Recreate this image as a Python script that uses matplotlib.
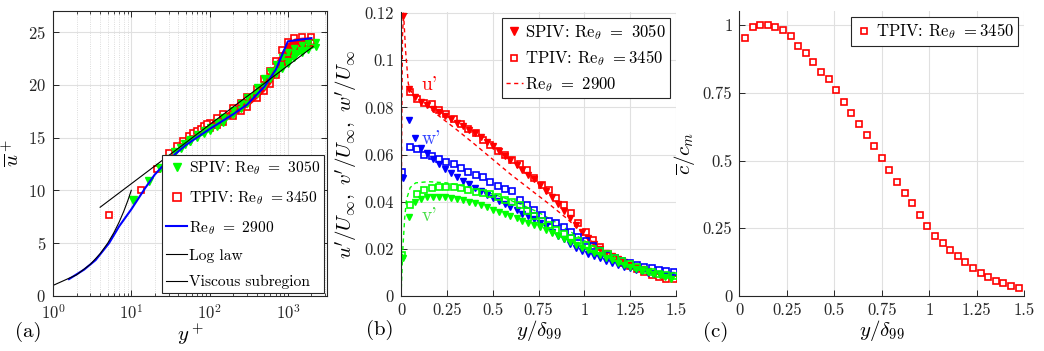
import matplotlib
matplotlib.use("Agg")
import matplotlib.pyplot as plt
import numpy as np
from matplotlib.ticker import FuncFormatter
from matplotlib.lines import Line2D

plt.rcParams['font.family'] = ['cmr10']
plt.rcParams['mathtext.fontset'] = 'cm'
plt.rcParams['axes.formatter.use_mathtext'] = True
plt.rcParams['axes.unicode_minus'] = False

RED = '#ff0000'
GREEN = '#00ff00'
BLUE = '#0000ff'

# ---------------- (a) mean velocity profile ----------------
# DNS Re_theta = 2900
dns_yp = [1.6, 2.5, 3.5, 5.2, 7.0, 10, 15, 20, 30, 50, 100, 200, 300, 500, 700, 1000, 2000]
dns_up = [1.6, 2.5, 3.4, 5.0, 6.6, 8.2, 10.2, 11.5, 12.9, 14.3, 15.8, 17.2, 18.1, 19.8, 21.4, 24.1, 24.4]

# viscous subregion u+ = y+ and log law end points
visc_yp = [1, 2, 3, 4, 5, 6, 7, 8, 9, 10]
visc_up = [1, 2, 3, 4, 5, 6, 7, 8, 9, 10]
log_yp = [4, 2100]
log_up = [8.4, 23.6]

# SPIV, individual points near the wall
spiv_yp = [10.4, 16.9, 23.4, 30, 36, 43, 49, 56]
spiv_up = [9.1, 10.9, 12.1, 13.0, 13.6, 14.0, 14.4, 14.7]
# SPIV, spread of the profiles further out
spiv_band_yp = [56, 70, 85, 100, 125, 150, 200, 250, 300, 400, 500, 600, 700, 850, 1000, 1200, 1500, 1800, 2300]
spiv_band_lo = [14.6, 15.0, 15.3, 15.6, 16.0, 16.4, 17.1, 17.7, 18.2, 19.1, 19.9, 20.5, 21.0, 21.5, 22.0, 22.5, 23.0, 23.3, 23.6]
spiv_band_hi = [14.9, 15.3, 15.7, 16.0, 16.5, 16.9, 17.6, 18.3, 18.8, 19.8, 20.6, 21.3, 22.0, 22.6, 23.1, 23.5, 23.8, 23.9, 24.0]

# TPIV, individual points near the wall
tpiv_yp = [5.2, 13.3, 21.6, 30, 38, 46, 54, 62, 70, 78, 86, 94]
tpiv_up = [7.7, 10.0, 12.0, 13.5, 14.2, 14.7, 15.1, 15.4, 15.65, 15.85, 16.05, 16.25]
tpiv_band_yp = [100, 125, 150, 200, 250, 300, 400, 500, 600, 700, 850, 1000, 1200, 1500, 2000]
tpiv_band_lo = [15.9, 16.2, 16.5, 17.0, 17.5, 17.9, 18.7, 19.4, 20.1, 20.9, 22.0, 22.9, 23.7, 23.9, 23.9]
tpiv_band_hi = [16.4, 16.8, 17.2, 17.8, 18.3, 18.8, 19.6, 20.5, 21.3, 22.2, 23.3, 24.0, 24.4, 24.5, 24.5]

# ---------------- (b) fluctuation profiles ----------------
spiv_y = [0.012, 0.0445, 0.077, 0.1095, 0.142, 0.1745, 0.207, 0.24, 0.272, 0.305,
          0.337, 0.37, 0.402, 0.435, 0.467, 0.5, 0.532, 0.565, 0.597, 0.63,
          0.662, 0.695, 0.727, 0.76, 0.792, 0.825, 0.857, 0.89, 0.922, 0.955,
          0.987, 1.02, 1.052, 1.085, 1.117, 1.15, 1.182, 1.215, 1.247, 1.28,
          1.312, 1.345, 1.377, 1.41, 1.442, 1.475]
spiv_u = [0.119, 0.088, 0.0845, 0.0825, 0.081, 0.0795, 0.078, 0.0765, 0.075, 0.0735,
          0.072, 0.0705, 0.069, 0.0675, 0.0655, 0.0635, 0.0615, 0.0595, 0.0575, 0.0555,
          0.0535, 0.0515, 0.0495, 0.047, 0.0445, 0.042, 0.039, 0.036, 0.033, 0.030,
          0.027, 0.0245, 0.022, 0.020, 0.0183, 0.0168, 0.0155, 0.0143, 0.0133, 0.0123,
          0.0114, 0.0106, 0.0098, 0.0091, 0.0084, 0.0078]
spiv_v = [0.016, 0.0336, 0.040, 0.0412, 0.0418, 0.042, 0.042, 0.0419, 0.0416, 0.0412,
          0.0407, 0.040, 0.0393, 0.0385, 0.0376, 0.0367, 0.0357, 0.0348, 0.0339, 0.033,
          0.032, 0.031, 0.030, 0.0292, 0.0282, 0.0268, 0.0254, 0.0242, 0.0228, 0.0216,
          0.0205, 0.0195, 0.0184, 0.0174, 0.0163, 0.0152, 0.014, 0.013, 0.0122, 0.0115,
          0.0108, 0.0101, 0.0094, 0.0087, 0.008, 0.0073]
spiv_w = [0.050, 0.0748, 0.067, 0.063, 0.0605, 0.058, 0.056, 0.054, 0.052, 0.0505,
          0.049, 0.0475, 0.046, 0.0445, 0.043, 0.0415, 0.0405, 0.039, 0.0378, 0.0365,
          0.035, 0.0338, 0.0325, 0.031, 0.0295, 0.027, 0.0255, 0.024, 0.022, 0.0205,
          0.0193, 0.018, 0.017, 0.016, 0.015, 0.014, 0.0132, 0.0125, 0.0118, 0.011,
          0.0105, 0.0099, 0.0095, 0.0092, 0.009, 0.0088]

tpiv_y = [0.007, 0.047, 0.087, 0.127, 0.167, 0.207, 0.247, 0.287, 0.327, 0.367,
          0.407, 0.447, 0.487, 0.527, 0.567, 0.607, 0.647, 0.687, 0.727, 0.767,
          0.807, 0.847, 0.887, 0.927, 0.967, 1.007, 1.047, 1.087, 1.127, 1.167,
          1.207, 1.247, 1.287, 1.327, 1.367, 1.407, 1.447, 1.487]
tpiv_u = [np.nan, 0.0865, 0.0835, 0.082, 0.0815, 0.079, 0.0772, 0.075, 0.0728, 0.0708,
          0.069, 0.066, 0.064, 0.0617, 0.0597, 0.0578, 0.0558, 0.0535, 0.050, 0.047,
          0.0448, 0.0415, 0.0385, 0.0352, 0.031, 0.0272, 0.0238, 0.021, 0.018, 0.016,
          0.0142, 0.0127, 0.0113, 0.010, 0.0088, 0.0079, 0.0073, 0.0072]
tpiv_v = [0.0175, 0.0385, 0.0432, 0.0448, 0.046, 0.0462, 0.0462, 0.0462, 0.046, 0.0448,
          0.0443, 0.0436, 0.0431, 0.042, 0.0408, 0.0398, 0.0385, 0.0362, 0.034, 0.0318,
          0.030, 0.0282, 0.0265, 0.0248, 0.0232, 0.0215, 0.020, 0.0192, 0.0178, 0.0163,
          0.0148, 0.0135, 0.0122, 0.0112, 0.0103, 0.0095, 0.0088, 0.0083]
tpiv_w = [0.0525, 0.0632, 0.0623, 0.060, 0.0592, 0.058, 0.0569, 0.0562, 0.0545, 0.0527,
          0.0515, 0.0503, 0.0484, 0.0466, 0.0456, 0.0446, 0.0407, 0.0385, 0.0367, 0.0345,
          0.032, 0.031, 0.0292, 0.027, 0.0252, 0.0234, 0.0212, 0.019, 0.0175, 0.0162,
          0.015, 0.0142, 0.0132, 0.0124, 0.0117, 0.011, 0.0106, 0.0103]

# DNS Re_theta = 2900
dns_y_u = [0.0, 0.003, 0.008, 0.014, 0.025, 0.04, 0.06, 0.1, 0.15, 0.2, 0.3, 0.4, 0.5,
           0.6, 0.7, 0.8, 0.9, 1.0, 1.1, 1.2, 1.3, 1.4, 1.5]
dns_u = [0.0, 0.06, 0.11, 0.12, 0.104, 0.09, 0.086, 0.083, 0.080, 0.0768, 0.0708, 0.0645,
         0.058, 0.0515, 0.0455, 0.0395, 0.0332, 0.026, 0.019, 0.014, 0.011, 0.0095, 0.0085]
dns_y_v = [0.0, 0.005, 0.01, 0.02, 0.03, 0.05, 0.08, 0.15, 0.25, 0.35, 0.45, 0.55, 0.65,
           0.75, 0.85, 0.95, 1.05, 1.15, 1.25, 1.35, 1.5]
dns_v = [0.0, 0.010, 0.020, 0.033, 0.041, 0.046, 0.048, 0.0485, 0.048, 0.0465, 0.0445,
         0.042, 0.039, 0.0355, 0.031, 0.026, 0.021, 0.0165, 0.013, 0.0105, 0.0085]

# ---------------- (c) mean concentration ----------------
c_y = [0.03, 0.07, 0.11, 0.15, 0.19, 0.23, 0.27, 0.31, 0.35, 0.39, 0.43, 0.47, 0.51,
       0.55, 0.59, 0.63, 0.67, 0.71, 0.75, 0.79, 0.83, 0.87, 0.91, 0.95, 0.99, 1.03,
       1.07, 1.11, 1.15, 1.19, 1.23, 1.27, 1.31, 1.35, 1.39, 1.43, 1.47]
c_mean = [0.951, 0.991, 1.002, 0.999, 0.993, 0.980, 0.961, 0.923, 0.897, 0.862, 0.828,
          0.802, 0.759, 0.715, 0.675, 0.633, 0.593, 0.552, 0.509, 0.465, 0.422, 0.379,
          0.342, 0.299, 0.260, 0.223, 0.194, 0.171, 0.149, 0.125, 0.105, 0.085, 0.069,
          0.055, 0.047, 0.038, 0.031]

TICK_FS = 12
LAB_FS = 15
LEG_FS = 12


def style_axes(ax, box=False):
    for s in ['top', 'right']:
        ax.spines[s].set_visible(box)
    for s in ax.spines.values():
        s.set_color('0.15')
        s.set_linewidth(0.8)
    ax.tick_params(direction='in', length=4, width=0.7, colors='0.15',
                   labelsize=TICK_FS, top=box, right=box, pad=5)
    ax.tick_params(which='minor', direction='in', length=2.5, width=0.5, top=box, right=box)
    ax.grid(True, which='major', color='0.88', lw=0.8)
    ax.set_axisbelow(True)


def gfmt(v, pos):
    return '%g' % round(v, 4)


def boxed_legend(ax, handles, labels, fs=LEG_FS, **kw):
    leg = ax.legend(handles, labels, fontsize=fs, fancybox=False,
                    edgecolor='0.15', framealpha=1, **kw)
    leg.get_frame().set_linewidth(0.8)
    return leg


fig = plt.figure(figsize=(10.44, 3.51), dpi=100)

# ---------- (a) ----------
ax1 = fig.add_axes([53 / 1044, 55 / 351, 274 / 1044, 285.3 / 351])
ax1.set_xscale('log')
ax1.fill_between(tpiv_band_yp, tpiv_band_lo, tpiv_band_hi, color=RED, lw=0)
ax1.plot(tpiv_band_yp, tpiv_band_lo, 's', ms=4.5, mfc='none', mec=RED, mew=1.2)
ax1.plot(tpiv_band_yp, tpiv_band_hi, 's', ms=4.5, mfc='none', mec=RED, mew=1.2)
ax1.plot(tpiv_yp, tpiv_up, 's', ms=5, mfc='white', mec=RED, mew=1.2)
ax1.fill_between(spiv_band_yp, spiv_band_lo, spiv_band_hi, color=GREEN, lw=0)
ax1.plot(spiv_band_yp, spiv_band_lo, 'v', ms=5, color=GREEN)
ax1.plot(spiv_band_yp, spiv_band_hi, 'v', ms=5, color=GREEN)
ax1.plot(spiv_yp, spiv_up, 'v', ms=5.5, color=GREEN)
ax1.plot(dns_yp, dns_up, '-', color=BLUE, lw=1.5)
ax1.plot(log_yp, log_up, '-', color='k', lw=0.8)
ax1.plot(visc_yp, visc_up, '-', color='k', lw=0.8)
ax1.set_xlim(1, 3162)
ax1.set_ylim(0, 27)
ax1.set_yticks([0, 5, 10, 15, 20, 25])
style_axes(ax1, box=True)
ax1.grid(True, which='minor', axis='x', color='0.82', lw=0.6, ls=':')
ax1.set_xlabel('$y^+$', fontsize=LAB_FS, labelpad=0)
ax1.set_ylabel(r'$\overline{u}^+$', fontsize=LAB_FS, labelpad=4)
h_a = [Line2D([], [], ls='none', marker='v', ms=6, color=GREEN),
       Line2D([], [], ls='none', marker='s', ms=5.5, mfc='white', mec=RED, mew=1.2),
       Line2D([], [], color=BLUE, lw=1.5),
       Line2D([], [], color='k', lw=0.8),
       Line2D([], [], color='k', lw=0.8)]
l_a = [r'SPIV: Re$_\theta$ $=$ 3050', r'TPIV: Re$_\theta$ $=$3450',
       r'Re$_\theta$ $=$ 2900', 'Log law', 'Viscous subregion']
boxed_legend(ax1, h_a, l_a, fs=11.2, loc='lower right', handlelength=1.35, handletextpad=0.08,
             labelspacing=0.78, borderpad=0.25, borderaxespad=0.2)
fig.text(15 / 1044, 1 - 332 / 351, '(a)', fontsize=LAB_FS, va='center')

# ---------- (b) ----------
ax2 = fig.add_axes([401 / 1044, 55 / 351, 275 / 1044, 284 / 351])
ax2.plot(dns_y_u, dns_u, '--', color=RED, lw=1.0, dashes=(3, 2.5))
ax2.plot(dns_y_v, dns_v, '--', color=GREEN, lw=1.0, dashes=(3, 2.5))
ax2.plot(spiv_y, spiv_u, 'v', ms=5, color=RED, ls='none')
ax2.plot(tpiv_y, tpiv_u, 's', ms=4.5, mfc='none', mec=RED, mew=1.2, ls='none')
ax2.plot(spiv_y, spiv_w, 'v', ms=5, color=BLUE, ls='none')
ax2.plot(tpiv_y, tpiv_w, 's', ms=4.5, mfc='none', mec=BLUE, mew=1.2, ls='none')
ax2.plot(spiv_y, spiv_v, 'v', ms=5, color=GREEN, ls='none')
ax2.plot(tpiv_y, tpiv_v, 's', ms=4.5, mfc='none', mec=GREEN, mew=1.2, ls='none')
ax2.text(0.11, 0.0895, "u'", color=RED, fontsize=14, va='center')
ax2.text(0.115, 0.0668, "w'", color='#3344ff', fontsize=14, va='center')
ax2.text(0.115, 0.0340, "v'", color='#44dd44', fontsize=14, va='center')
ax2.set_xlim(0, 1.5)
ax2.set_ylim(0, 0.1205)
ax2.set_xticks([0, 0.25, 0.5, 0.75, 1, 1.25, 1.5])
ax2.set_yticks([0, 0.02, 0.04, 0.06, 0.08, 0.1, 0.12])
ax2.xaxis.set_major_formatter(FuncFormatter(gfmt))
ax2.yaxis.set_major_formatter(FuncFormatter(gfmt))
style_axes(ax2)
ax2.set_xlabel(r'$y/\delta_{99}$', fontsize=LAB_FS, labelpad=0)
ax2.set_ylabel(r"$u'/U_\infty,\ v'/U_\infty,\ w'/U_\infty$", fontsize=LAB_FS, labelpad=3)
h_b = [Line2D([], [], ls='none', marker='v', ms=6, color=RED),
       Line2D([], [], ls='none', marker='s', ms=4.5, mfc='white', mec=RED, mew=1.2),
       Line2D([], [], color=RED, lw=1.0, ls='--', dashes=(3, 2.5))]
l_b = [r'SPIV: Re$_\theta$ $=$ 3050', r'TPIV: Re$_\theta$ $=$3450', r'Re$_\theta$ $=$ 2900']
boxed_legend(ax2, h_b, l_b, loc='upper right', handlelength=1.0, handletextpad=0.15,
             labelspacing=0.4, borderpad=0.25, borderaxespad=0.35)
fig.text(366 / 1044, 1 - 330 / 351, '(b)', fontsize=LAB_FS, va='center')

# ---------- (c) ----------
ax3 = fig.add_axes([739.3 / 1044, 55 / 351, 285 / 1044, 285.3 / 351])
c_line, = ax3.plot(c_y, c_mean, 's', ms=4.5, mfc='white', mec=RED, mew=1.2, ls='none')
ax3.set_xlim(0, 1.5)
ax3.set_ylim(0, 1.053)
ax3.set_xticks([0, 0.25, 0.5, 0.75, 1, 1.25, 1.5])
ax3.set_yticks([0, 0.25, 0.5, 0.75, 1])
ax3.xaxis.set_major_formatter(FuncFormatter(gfmt))
ax3.yaxis.set_major_formatter(FuncFormatter(gfmt))
style_axes(ax3)
ax3.set_xlabel(r'$y/\delta_{99}$', fontsize=LAB_FS, labelpad=0)
ax3.set_ylabel(r'$\overline{c}/c_m$', fontsize=LAB_FS, labelpad=4)
boxed_legend(ax3, [c_line], [r'TPIV: Re$_\theta$ $=$3450'], loc='upper right',
             handlelength=1.0, handletextpad=0.2, borderpad=0.3, borderaxespad=0.35)
fig.text(703 / 1044, 1 - 332 / 351, '(c)', fontsize=LAB_FS, va='center')

fig.savefig('out.png', dpi=100)
